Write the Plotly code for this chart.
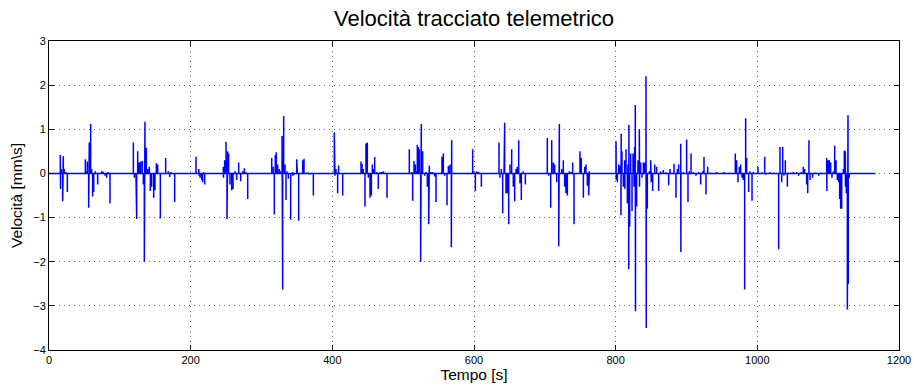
import plotly.graph_objects as go

# Velocity spikes (time [s], velocity [mm/s])
spike_t = [
    16.0, 16.3, 17.4, 19.3, 20.2, 21.6, 23.5, 25.9,
    51.3, 52.7, 54.1, 56.0, 56.9, 58.8, 60.2, 61.6, 63.1, 65.4, 68.7, 74.4, 76.7, 79.1, 81.4, 83.3, 86.1,
    119.1, 120.5, 122.8, 123.8, 125.2, 126.6, 127.5, 129.4, 131.8, 133.2, 134.6, 135.5, 137.4, 139.3,
    141.6, 143.1, 144.9, 147.8, 149.6, 151.5, 153.4, 157.2, 164.7, 168.5, 170.4, 172.3, 177.4,
    207.5, 211.3, 212.2, 213.2, 215.5, 216.9, 218.3, 219.8,
    246.1, 246.4, 248.0, 249.9, 251.3, 252.2, 253.6, 255.5, 257.9, 259.8, 262.6, 264.9, 267.8, 270.6,
    273.4, 275.8, 277.7, 280.5,
    314.4, 316.7, 318.1, 319.5, 320.9, 322.8, 325.2, 326.6, 329.0, 329.9, 331.3, 333.2, 334.6, 336.0,
    337.9, 341.2, 344.0, 344.3, 346.3, 349.7, 350.6, 352.5, 358.1, 360.0, 363.8, 365.7, 368.5, 373.2,
    402.8, 403.7, 405.2, 407.5, 408.9, 414.6,
    440.5, 441.9, 443.7, 446.1, 447.5, 449.4, 450.8, 453.2, 455.1, 456.5, 457.9, 459.8, 462.6, 464.9,
    467.3, 469.6, 472.0, 474.8, 477.2,
    508.7, 512.0, 513.4, 515.3, 517.2, 518.6, 520.0, 521.4, 522.8, 524.7, 525.6, 527.5, 530.4, 532.2,
    534.1, 536.0, 536.9, 539.3, 541.6, 544.5, 546.4,
    554.8, 556.7, 558.6, 561.9, 563.8, 566.1, 568.0, 568.5,
    598.1, 599.5, 601.9, 603.8, 605.6, 607.5, 610.4,
    635.3, 636.7, 638.6, 640.5, 642.4, 643.3, 645.2, 647.1, 649.0, 650.8, 653.2, 655.5, 657.4, 659.3,
    661.2, 663.1, 664.9, 666.8, 669.6, 672.5,
    703.5, 705.4, 708.3, 709.7, 712.0, 713.9, 716.7, 719.6, 720.5, 723.8, 726.1, 728.0, 729.9, 731.8,
    734.6, 737.4, 739.3, 741.2, 749.6, 751.5, 754.4, 756.3, 758.1, 760.0, 761.9, 762.8,
    800.5, 800.8, 802.4, 804.2, 806.1, 807.5, 807.8, 808.9, 810.8, 812.7, 813.0, 814.6, 816.5, 817.4,
    818.4, 818.7, 819.8, 821.2, 823.1, 824.5, 825.9, 826.8, 827.7, 828.0, 829.6, 831.5, 833.4, 833.7,
    835.3, 837.2, 839.1, 840.9, 842.8, 843.2, 844.7, 847.5, 849.4, 850.3, 852.2, 855.1, 857.9, 860.7,
    863.5, 867.3, 871.1, 874.8, 876.7, 882.4, 885.2, 887.1, 888.9, 891.8, 892.1, 895.5, 900.2, 902.1,
    903.9, 906.4, 909.6, 913.4, 917.2, 920.0, 922.8, 924.7, 927.5, 929.9, 933.2, 942.6, 952.9, 961.4,
    968.9, 970.8, 972.7, 974.6, 976.5, 978.4, 980.2, 982.1, 983.5, 984.9, 987.8, 989.6, 992.5, 994.4,
    1000.9, 1006.6, 1010.4, 1012.2, 1017.9, 1022.6, 1030.1, 1032.0, 1034.4, 1035.8, 1037.6, 1039.5,
    1042.4, 1044.2, 1050.8, 1055.5, 1058.4, 1062.1, 1064.9, 1066.8, 1069.6, 1071.1, 1072.9, 1074.4,
    1078.1, 1081.9, 1086.6, 1089.4, 1097.9, 1098.2, 1099.8, 1101.6, 1103.5, 1105.4, 1107.3, 1109.2,
    1111.1, 1112.9, 1114.8, 1116.2, 1117.6, 1119.1, 1121.4, 1122.8, 1124.2, 1124.5, 1125.6, 1127.1,
    1128.0, 1128.4, 1129.8,
]
spike_v = [
    0.42, -0.35, 0.10, -0.63, 0.39, 0.10, 0.03, -0.42,
    0.32, 0.05, 0.27, -0.78, 0.70, 1.12, 0.10, -0.52, -0.42, 0.05, -0.25, 0.05, 0.04, -0.05, -0.10, 0.03, -0.68,
    0.70, -0.10, -0.15, -1.03, 0.50, 0.15, 0.25, 0.27, 0.28, -0.25, -2.00, 1.17, 0.58, 0.10,
    0.15, -0.40, -0.30, -0.55, -0.38, 0.23, 0.20, -1.02, 0.35, 0.05, -0.08, 0.03, -0.65,
    0.38, 0.10, -0.05, -0.10, -0.15, -0.20, 0.03, -0.25,
    0.15, -0.10, 0.30, 0.72, -1.03, 0.50, 0.45, -0.25, -0.38, -0.35, 0.05, -0.15, 0.25, -0.18,
    0.05, 0.12, 0.03, -0.58,
    0.35, 0.15, -0.93, 0.42, 0.48, 0.20, 0.10, 0.05, 0.85, -2.63, 1.30, 0.20, -0.60, 0.05,
    -0.12, -1.05, 0.03, -0.05, -0.03, 0.32, 0.02, -1.07, 0.30, 0.33, 0.02, 0.02, -0.03, -0.50,
    0.93, -0.05, 0.10, -0.45, 0.18, -0.50,
    0.27, 0.22, 0.10, -0.75, 0.68, 0.70, -0.10, -0.55, -0.50, 0.20, 0.10, 0.37, 0.03, -0.35,
    0.03, 0.03, 0.05, 0.02, -0.55,
    0.55, 0.03, -0.62, 0.28, 0.20, 0.05, 0.65, 0.60, 0.55, -2.00, 1.12, 0.50, -0.05, 0.03,
    -0.30, -1.15, 0.18, 0.03, 0.03, -0.07, -0.65,
    0.38, 0.45, -0.05, -0.72, 0.17, 0.20, -1.67, 0.75,
    0.55, 0.05, -0.40, 0.05, 0.03, 0.02, -0.30,
    0.70, -0.10, 0.10, -0.90, 0.55, 1.15, -0.45, -0.45, -1.15, 0.20, 0.55, -0.30, -0.63, 0.10,
    0.15, 0.75, -0.22, -0.60, 0.05, -0.25,
    0.80, -0.05, -0.78, 0.75, 0.25, 0.20, -0.20, -1.65, 1.12, 0.10, 0.30, -0.30, -0.45, -0.50,
    0.05, 0.03, 0.25, -1.15, 0.50, 0.35, -0.55, 0.15, 0.20, -0.28, -0.50, 0.05,
    0.73, -0.15, -0.20, 0.20, 0.18, -0.95, 0.90, 0.50, -0.30, 0.30, -0.35, 0.55, -0.68, 0.20,
    -2.17, 1.10, -1.20, 0.45, -0.85, 0.45, -0.30, 0.60, 1.55, -3.12, -0.75, 0.30, 1.00, -0.30,
    0.25, -0.10, 0.25, 0.25, 2.20, -3.50, -0.80, 0.05, 0.30, -0.20, -0.40, 0.20, 0.15, -0.40,
    0.05, 0.08, 0.03, -0.27, 0.10, 0.22, -0.55, 0.10, 0.20, 0.67, -1.78, 0.03, 0.77, -0.65,
    0.05, 0.45, 0.03, -0.05, 0.03, -0.25, 0.05, 0.37, -0.48, 0.15, 0.02, 0.03, 0.03, 0.02,
    0.45, 0.30, -0.20, 0.15, 0.20, -0.10, -0.15, -2.63, 1.25, 0.35, -0.42, 0.05, -0.62, 0.03,
    0.15, 0.02, 0.38, -0.03, 0.03, 0.02, -1.72, 0.60, -0.20, 0.60, -0.05, 0.30,
    -0.30, 0.02, 0.03, 0.03, -0.05, 0.03, 0.15, 0.10, -0.25, -0.45, 0.75, -0.15,
    -0.10, 0.02, -0.05, 0.02, 0.35, -0.40, 0.30, 0.30, 0.25, -0.10, 0.05, 0.63,
    0.30, -0.15, -0.20, -0.58, -0.80, -0.80, 0.10, 0.52, 0.50, -0.30, -0.45, -3.08,
    1.32, -2.50, -0.10,
]
t_start, t_end = 0.0, 1166.6

x_ticks = [0, 200, 400, 600, 800, 1000, 1200]
y_ticks = [-4, -3, -2, -1, 0, 1, 2, 3]

# Build the signal: baseline zero, each sample rising/falling from zero
xs, ys = [t_start], [0.0]
for t, v in zip(spike_t, spike_v):
    xs += [t, t, t]
    ys += [0.0, v, 0.0]
xs.append(t_end)
ys.append(0.0)

fig = go.Figure()
fig.add_trace(go.Scatter(x=xs, y=ys, mode="lines",
                         line=dict(color="#0000ff", width=1.5),
                         hoverinfo="skip", showlegend=False))

font = "Liberation Sans, Arial, Helvetica, sans-serif"
axis_common = dict(
    showline=True, linecolor="black", linewidth=1, mirror="allticks",
    ticks="inside", ticklen=5, tickcolor="black", tickwidth=1,
    showgrid=True, gridcolor="rgba(0,0,0,0.6)", griddash="1px,4px", gridwidth=1,
    zeroline=False, automargin=False,
    tickfont=dict(family=font, size=11, color="black"),
)
fig.update_xaxes(range=[0, 1200], tickvals=x_ticks,
                 title=dict(text="Tempo [s]", font=dict(family=font, size=15.5, color="black"), standoff=3),
                 **axis_common)
fig.update_yaxes(range=[-4, 3], tickvals=y_ticks,
                 title=dict(text="Velocità [mm\\s]", font=dict(family=font, size=15.5, color="black"), standoff=6),
                 **axis_common)

fig.update_layout(
    width=914, height=385,
    margin=dict(l=49, r=15, t=41, b=35),
    paper_bgcolor="white", plot_bgcolor="white",
    title=dict(text="Velocità tracciato telemetrico", x=474 / 914, xanchor="center",
               y=1 - 18 / 385, yanchor="middle", yref="container",
               font=dict(family=font, size=22, color="black")),
)

fig.write_html("out.html")
